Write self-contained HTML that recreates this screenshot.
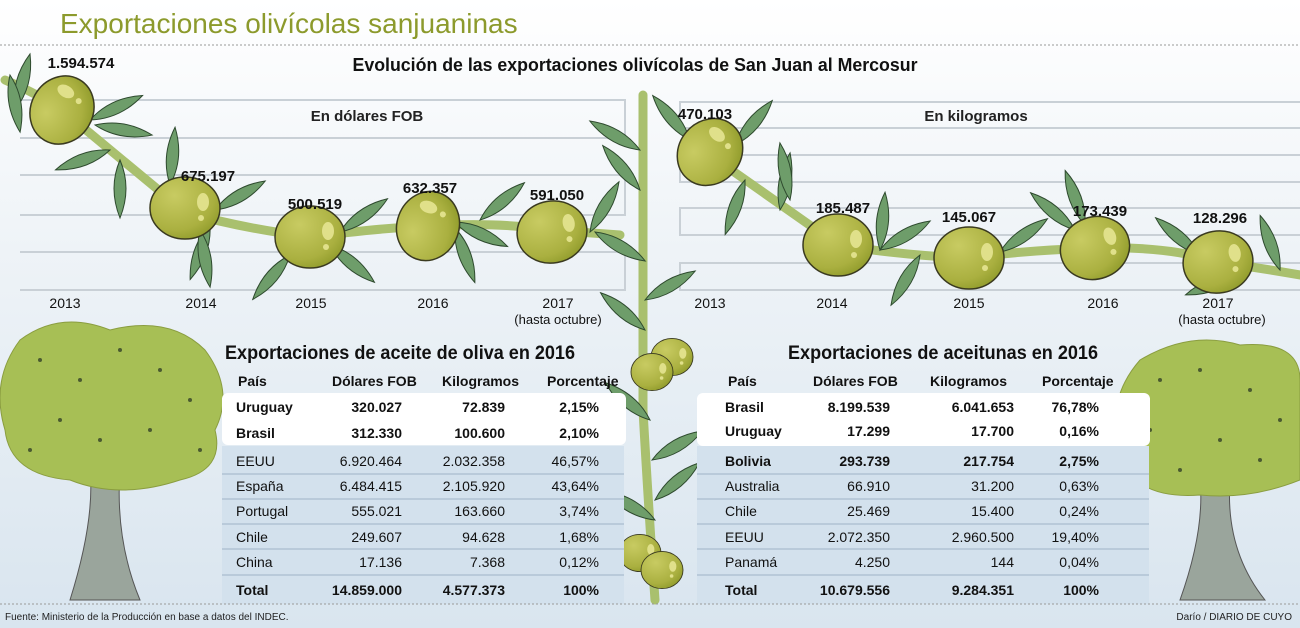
<!DOCTYPE html>
<html><head><meta charset="utf-8"><style>
html,body{margin:0;padding:0;width:1300px;height:628px;overflow:hidden;background:#fff}
svg{display:block}
text{font-family:"Liberation Sans",sans-serif}
.b{font-weight:bold}
</style></head><body>
<svg width="1300" height="628" viewBox="0 0 1300 628" xmlns="http://www.w3.org/2000/svg">
<defs>
<linearGradient id="bg" x1="0" y1="0" x2="0" y2="1">
<stop offset="0" stop-color="#ffffff"/><stop offset="0.4" stop-color="#eef3f7"/><stop offset="1" stop-color="#d9e5ef"/>
</linearGradient>
<radialGradient id="ol" cx="0.35" cy="0.3" r="0.8">
<stop offset="0" stop-color="#c8cb62"/><stop offset="0.7" stop-color="#aab040"/><stop offset="1" stop-color="#8c9828"/>
</radialGradient>
<g id="olive"><ellipse rx="35" ry="31" fill="url(#ol)" stroke="#3a3a20" stroke-width="1.5"/><ellipse cx="18" cy="-6" rx="6" ry="9" fill="#e0e08a"/><circle cx="16" cy="10" r="3" fill="#e0e08a"/></g>
<path id="leaf" d="M0 0 Q28 -12 58 0 Q28 12 0 0Z" fill="#6e9d6a" stroke="#2e4a2e" stroke-width="1"/>
</defs>
<rect width="1300" height="628" fill="url(#bg)"/>
<text x="60" y="33" font-size="28" fill="#8c9a2c">Exportaciones olivícolas sanjuaninas</text>
<line x1="0" y1="45" x2="1300" y2="45" stroke="#999" stroke-dasharray="2 2"/>
<text x="635" y="71" font-size="18" class="b" text-anchor="middle" fill="#111" textLength="565" lengthAdjust="spacingAndGlyphs">Evolución de las exportaciones olivícolas de San Juan al Mercosur</text>
<g stroke="#c9d0d6" stroke-width="2" fill="none">
<path d="M20 100 H625 V138 H20"/><path d="M20 175 H625 V215 H20"/><path d="M20 252 H625 V290 H20"/>
<path d="M1300 102 H680 V128 H1300"/><path d="M1300 155 H680 V182 H1300"/><path d="M1300 208 H680 V235 H1300"/><path d="M1300 263 H680 V290 H1300"/>
</g>
<text x="367" y="121" font-size="15" class="b" text-anchor="middle" fill="#222">En dólares FOB</text>
<text x="976" y="121" font-size="15" class="b" text-anchor="middle" fill="#222">En kilogramos</text>
<g stroke="#a9c06e" stroke-width="9" fill="none" stroke-linecap="round">
<path d="M5 80 Q40 95 62 110 L185 212 Q240 228 310 237 Q380 228 428 226 Q500 222 550 230 L620 235"/>
<path d="M710 155 L838 245 Q900 255 965 258 Q1030 250 1095 248 Q1170 246 1218 262 Q1260 268 1300 275"/>
<path d="M643 95 L643 410 Q648 500 655 600"/>
</g>
<g>
<use href="#leaf" transform="translate(15,110) rotate(-75)"/><use href="#leaf" transform="translate(10,75) rotate(80)"/>
<use href="#leaf" transform="translate(90,120) rotate(-25)"/><use href="#leaf" transform="translate(95,125) rotate(10)"/>
<use href="#leaf" transform="translate(110,150) rotate(160)"/><use href="#leaf" transform="translate(120,160) rotate(90)"/>
<use href="#leaf" transform="translate(170,185) rotate(-85)"/><use href="#leaf" transform="translate(215,210) rotate(-30)"/>
<use href="#leaf" transform="translate(210,225) rotate(110)"/><use href="#leaf" transform="translate(200,230) rotate(80)"/>
<use href="#leaf" transform="translate(290,255) rotate(130)"/><use href="#leaf" transform="translate(330,245) rotate(40)"/>
<use href="#leaf" transform="translate(340,232) rotate(-35)"/><use href="#leaf" transform="translate(455,222) rotate(25)"/>
<use href="#leaf" transform="translate(455,228) rotate(70)"/><use href="#leaf" transform="translate(480,220) rotate(-40)"/>
<use href="#leaf" transform="translate(590,232) rotate(-60)"/><use href="#leaf" transform="translate(595,232) rotate(30)"/>
<use href="#leaf" transform="translate(640,150) rotate(-150)"/><use href="#leaf" transform="translate(640,190) rotate(-130)"/>
<use href="#leaf" transform="translate(645,330) rotate(-140)"/><use href="#leaf" transform="translate(645,300) rotate(-30)"/>
<use href="#leaf" transform="translate(650,420) rotate(-140)"/><use href="#leaf" transform="translate(652,460) rotate(-30)"/>
<use href="#leaf" transform="translate(655,520) rotate(-150)"/><use href="#leaf" transform="translate(655,500) rotate(-40)"/>
<use href="#leaf" transform="translate(690,140) rotate(-130)"/><use href="#leaf" transform="translate(735,145) rotate(-50)"/>
<use href="#leaf" transform="translate(745,180) rotate(110)"/><use href="#leaf" transform="translate(780,210) rotate(-80)"/>
<use href="#leaf" transform="translate(790,200) rotate(-100)"/><use href="#leaf" transform="translate(880,250) rotate(-30)"/>
<use href="#leaf" transform="translate(880,250) rotate(-85)"/><use href="#leaf" transform="translate(920,255) rotate(120)"/>
<use href="#leaf" transform="translate(1000,252) rotate(-35)"/><use href="#leaf" transform="translate(1075,230) rotate(-140)"/>
<use href="#leaf" transform="translate(1085,225) rotate(-110)"/><use href="#leaf" transform="translate(1200,255) rotate(-140)"/>
<use href="#leaf" transform="translate(1240,275) rotate(160)"/><use href="#leaf" transform="translate(1280,270) rotate(-110)"/>
</g>
<use href="#olive" transform="translate(62,110) rotate(-60)"/>
<use href="#olive" transform="translate(185,208)"/>
<use href="#olive" transform="translate(310,237)"/>
<use href="#olive" transform="translate(428,226) rotate(-70)"/>
<use href="#olive" transform="translate(552,232) rotate(-10)"/>
<use href="#olive" transform="translate(710,152) rotate(-50)"/>
<use href="#olive" transform="translate(838,245)"/>
<use href="#olive" transform="translate(969,258)"/>
<use href="#olive" transform="translate(1095,248) rotate(-20)"/>
<use href="#olive" transform="translate(1218,262) rotate(-10)"/>
<use href="#olive" transform="translate(672,357) scale(0.6)"/><use href="#olive" transform="translate(652,372) scale(0.6)"/>
<use href="#olive" transform="translate(640,553) scale(0.6)"/><use href="#olive" transform="translate(662,570) scale(0.6)"/>
<g font-size="15" class="b" fill="#111" text-anchor="middle">
<text x="81" y="68">1.594.574</text><text x="208" y="181">675.197</text><text x="315" y="209">500.519</text>
<text x="430" y="193">632.357</text><text x="557" y="200">591.050</text>
<text x="705" y="119">470.103</text><text x="843" y="213">185.487</text><text x="969" y="222">145.067</text>
<text x="1100" y="216">173.439</text><text x="1220" y="223">128.296</text>
</g>
<g font-size="14" fill="#111" text-anchor="middle">
<text x="65" y="308">2013</text><text x="201" y="308">2014</text><text x="311" y="308">2015</text><text x="433" y="308">2016</text><text x="558" y="308">2017</text>
<text x="558" y="324" font-size="13">(hasta octubre)</text>
<text x="710" y="308">2013</text><text x="832" y="308">2014</text><text x="969" y="308">2015</text><text x="1103" y="308">2016</text><text x="1218" y="308">2017</text>
<text x="1222" y="324" font-size="13">(hasta octubre)</text>
</g>
<g>
<path d="M70 600 Q95 520 90 470 L120 470 Q115 540 140 600Z" fill="#9aa59c" stroke="#555"/>
<path d="M20 340 Q60 310 110 330 Q170 315 205 350 Q235 390 215 430 Q225 470 180 480 Q120 500 70 480 Q10 475 5 430 Q-10 380 20 340Z" fill="#a7bf55" stroke="#8a9d40"/>
<path d="M1180 600 Q1205 530 1200 480 L1230 480 Q1225 550 1265 600Z" fill="#9aa59c" stroke="#555"/>
<path d="M1140 360 Q1190 330 1240 345 Q1300 340 1300 380 L1300 480 Q1250 500 1200 495 Q1130 500 1120 450 Q1105 400 1140 360Z" fill="#a7bf55" stroke="#8a9d40"/>
<g fill="#4a5a30">
<circle cx="40" cy="360" r="2"/><circle cx="80" cy="380" r="2"/><circle cx="120" cy="350" r="2"/><circle cx="160" cy="370" r="2"/><circle cx="190" cy="400" r="2"/><circle cx="60" cy="420" r="2"/><circle cx="100" cy="440" r="2"/><circle cx="150" cy="430" r="2"/><circle cx="30" cy="450" r="2"/><circle cx="200" cy="450" r="2"/>
<circle cx="1160" cy="380" r="2"/><circle cx="1200" cy="370" r="2"/><circle cx="1250" cy="390" r="2"/><circle cx="1280" cy="420" r="2"/><circle cx="1150" cy="430" r="2"/><circle cx="1220" cy="440" r="2"/><circle cx="1260" cy="460" r="2"/><circle cx="1180" cy="470" r="2"/>
</g>
</g>
<rect x="222" y="446" width="402" height="158" fill="#d3e1ed"/>
<rect x="222" y="393" width="404" height="52" rx="6" fill="#fff"/>
<rect x="697" y="446" width="452" height="158" fill="#d3e1ed"/>
<rect x="697" y="393" width="453" height="53" rx="6" fill="#fff"/>
<g stroke="#9fb4c6" stroke-width="1">
<line x1="222" y1="474" x2="624" y2="474"/><line x1="222" y1="499" x2="624" y2="499"/><line x1="222" y1="524" x2="624" y2="524"/><line x1="222" y1="549" x2="624" y2="549"/><line x1="222" y1="575" x2="624" y2="575"/>
<line x1="697" y1="474" x2="1149" y2="474"/><line x1="697" y1="499" x2="1149" y2="499"/><line x1="697" y1="524" x2="1149" y2="524"/><line x1="697" y1="549" x2="1149" y2="549"/><line x1="697" y1="575" x2="1149" y2="575"/>
</g>
<text x="225" y="359" font-size="19" class="b" fill="#111" textLength="350" lengthAdjust="spacingAndGlyphs">Exportaciones de aceite de oliva en 2016</text>
<text x="788" y="359" font-size="19" class="b" fill="#111" textLength="310" lengthAdjust="spacingAndGlyphs">Exportaciones de aceitunas en 2016</text>
<g font-size="14" fill="#111">
<g class="b"><text x="238" y="386">País</text><text x="332" y="386">Dólares FOB</text><text x="442" y="386">Kilogramos</text><text x="547" y="386">Porcentaje</text>
<text x="728" y="386">País</text><text x="813" y="386">Dólares FOB</text><text x="930" y="386">Kilogramos</text><text x="1042" y="386">Porcentaje</text></g>
<g><text x="236" y="412" class="b">Uruguay</text><text x="236" y="438" class="b">Brasil</text><text x="236" y="466">EEUU</text><text x="236" y="491">España</text><text x="236" y="516">Portugal</text><text x="236" y="542">Chile</text><text x="236" y="567">China</text><text x="236" y="595" class="b">Total</text></g>
<g text-anchor="end"><text x="402" y="412" class="b">320.027</text><text x="402" y="438" class="b">312.330</text><text x="402" y="466">6.920.464</text><text x="402" y="491">6.484.415</text><text x="402" y="516">555.021</text><text x="402" y="542">249.607</text><text x="402" y="567">17.136</text><text x="402" y="595" class="b">14.859.000</text></g>
<g text-anchor="end"><text x="505" y="412" class="b">72.839</text><text x="505" y="438" class="b">100.600</text><text x="505" y="466">2.032.358</text><text x="505" y="491">2.105.920</text><text x="505" y="516">163.660</text><text x="505" y="542">94.628</text><text x="505" y="567">7.368</text><text x="505" y="595" class="b">4.577.373</text></g>
<g text-anchor="end"><text x="599" y="412" class="b">2,15%</text><text x="599" y="438" class="b">2,10%</text><text x="599" y="466">46,57%</text><text x="599" y="491">43,64%</text><text x="599" y="516">3,74%</text><text x="599" y="542">1,68%</text><text x="599" y="567">0,12%</text><text x="599" y="595" class="b">100%</text></g>
<g><text x="725" y="412" class="b">Brasil</text><text x="725" y="436" class="b">Uruguay</text><text x="725" y="466" class="b">Bolivia</text><text x="725" y="491">Australia</text><text x="725" y="516">Chile</text><text x="725" y="542">EEUU</text><text x="725" y="567">Panamá</text><text x="725" y="595" class="b">Total</text></g>
<g text-anchor="end"><text x="890" y="412" class="b">8.199.539</text><text x="890" y="436" class="b">17.299</text><text x="890" y="466" class="b">293.739</text><text x="890" y="491">66.910</text><text x="890" y="516">25.469</text><text x="890" y="542">2.072.350</text><text x="890" y="567">4.250</text><text x="890" y="595" class="b">10.679.556</text></g>
<g text-anchor="end"><text x="1014" y="412" class="b">6.041.653</text><text x="1014" y="436" class="b">17.700</text><text x="1014" y="466" class="b">217.754</text><text x="1014" y="491">31.200</text><text x="1014" y="516">15.400</text><text x="1014" y="542">2.960.500</text><text x="1014" y="567">144</text><text x="1014" y="595" class="b">9.284.351</text></g>
<g text-anchor="end"><text x="1099" y="412" class="b">76,78%</text><text x="1099" y="436" class="b">0,16%</text><text x="1099" y="466" class="b">2,75%</text><text x="1099" y="491">0,63%</text><text x="1099" y="516">0,24%</text><text x="1099" y="542">19,40%</text><text x="1099" y="567">0,04%</text><text x="1099" y="595" class="b">100%</text></g>
</g>
<line x1="0" y1="604" x2="1300" y2="604" stroke="#999" stroke-dasharray="2 2"/>
<text x="5" y="620" font-size="10" fill="#222">Fuente: Ministerio de la Producción en base a datos del INDEC.</text>
<text x="1292" y="620" font-size="10" fill="#222" text-anchor="end">Darío / DIARIO DE CUYO</text>
</svg>
</body></html>
